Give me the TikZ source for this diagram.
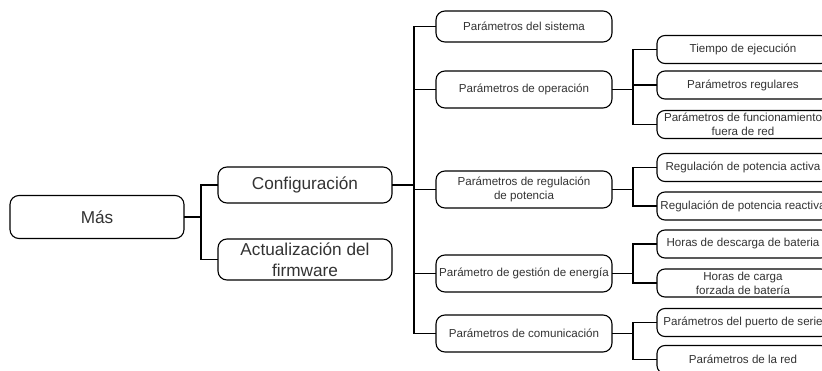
\documentclass[tikz,border=0pt]{standalone}
\usepackage{fontspec}
\setmainfont{Liberation Sans}
\usetikzlibrary{positioning}
\tikzset{
  bigbox/.style={draw, rounded corners=9pt, line width=1.1pt, align=center, inner sep=0pt, outer sep=0pt, minimum width=174pt, font=\fontsize{17.2}{20.6}\selectfont, text=black!80},
  midbox/.style={draw, rounded corners=9pt, line width=1.1pt, align=center, inner sep=0pt, outer sep=0pt, minimum width=176pt, minimum height=37pt, font=\fontsize{11.6}{13.9}\selectfont, text=black!80},
  leafbox/.style={draw, rounded corners=8pt, line width=1.1pt, align=center, inner sep=0pt, outer sep=0pt, minimum width=172pt, minimum height=28pt, font=\fontsize{11.6}{13.9}\selectfont, text=black!80},
  link/.style={line width=1.1pt, black}
}
\begin{document}
\begin{tikzpicture}[x=1pt, y=-1pt]
    \clip (0,0) rectangle (822,371);
    \fill[white] (0,0) rectangle (822,371);

    % left part
    \node[bigbox, minimum height=43pt] (mas) at (97,217) {Más};
    \node[bigbox, minimum height=36pt] (config) at (305,185) {Configuración};
    \node[bigbox, minimum height=41pt] (firmware) at (305,259.5) {Actualización del\\firmware};

    % middle column
    \node[midbox, minimum height=31pt] (sistema) at (524,26.5) {Parámetros del sistema};
    \node[midbox, below=29pt of sistema] (operacion) {Parámetros de operación};
    \node[midbox, below=63pt of operacion] (regulacion) {Parámetros de regulación\\de potencia};
    \node[midbox, below=47pt of regulacion] (gestion) {Parámetro de gestión de energía};
    \node[midbox, below=23pt of gestion] (comunicacion) {Parámetros de comunicación};

    % right column
    \node[leafbox] (tiempo) at (743,49.5) {Tiempo de ejecución};
    \node[leafbox] (regulares) at (743,85) {Parámetros regulares};
    \node[leafbox] (fuera) at (743,124.5) {Parámetros de funcionamiento\\fuera de red};
    \node[leafbox] (activa) at (743,167.5) {Regulación de potencia activa};
    \node[leafbox] (reactiva) at (743,206) {Regulación de potencia reactiva};
    \node[leafbox] (descarga) at (743,244) {Horas de descarga de bateria};
    \node[leafbox] (carga) at (743,283) {Horas de carga\\forzada de batería};
    \node[leafbox] (serie) at (743,322.5) {Parámetros del puerto de serie};
    \node[leafbox] (red) at (743,359.5) {Parámetros de la red};

    \draw[link] (mas.east) -- ++(17,0) |- (config.west);
    \draw[link] (mas.east) -- ++(17,0) |- (firmware.west);

    \draw[link] (config.east) -- ++(22,0) coordinate (trunk);
    \draw[link] (trunk) |- (sistema.west);
    \draw[link] (trunk) |- (operacion.west);
    \draw[link] (trunk) |- (regulacion.west);
    \draw[link] (trunk) |- (gestion.west);
    \draw[link] (trunk) |- (comunicacion.west);

    \draw[link] (operacion.east) -- ++(21,0) |- (tiempo.west);
    \draw[link] (operacion.east) -- ++(21,0) |- (regulares.west);
    \draw[link] (operacion.east) -- ++(21,0) |- (fuera.west);
    \draw[link] (regulacion.east) -- ++(21,0) |- (activa.west);
    \draw[link] (regulacion.east) -- ++(21,0) |- (reactiva.west);
    \draw[link] (gestion.east) -- ++(21,0) |- (descarga.west);
    \draw[link] (gestion.east) -- ++(21,0) |- (carga.west);
    \draw[link] (comunicacion.east) -- ++(21,0) |- (serie.west);
    \draw[link] (comunicacion.east) -- ++(21,0) |- (red.west);
\end{tikzpicture}
\end{document}
